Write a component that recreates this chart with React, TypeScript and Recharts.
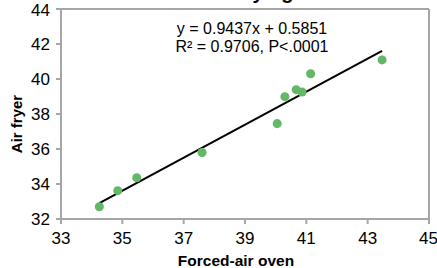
import React from "react";
import {
  ScatterChart,
  Scatter,
  XAxis,
  YAxis,
  ZAxis,
  ReferenceLine,
} from "recharts";

// forced-air oven (x) vs air fryer (y)
const ovenValues = [34.25, 34.85, 35.47, 37.6, 40.05, 40.3, 40.67, 40.86, 41.14, 43.47];
const fryerValues = [32.7, 33.62, 34.36, 35.8, 37.45, 38.99, 39.39, 39.26, 40.3, 41.09];

const xTicks = [33, 35, 37, 39, 41, 43, 45];
const yTicks = [32, 34, 36, 38, 40, 42, 44];

const slope = 0.9437;
const intercept = 0.5851;

const points = ovenValues.map((x, i) => ({ x, y: fryerValues[i] }));
const xMin = Math.min(...ovenValues);
const xMax = Math.max(...ovenValues);
const fitSegment = [
  { x: xMin, y: slope * xMin + intercept },
  { x: xMax, y: slope * xMax + intercept },
];

const axisGray = "#a6a6a6";
const font = "'Liberation Sans', Arial, sans-serif";

const YLabel = (props: any) => {
  const vb = props.viewBox || { x: 0, y: 9, height: 210 };
  const cx = 21.5;
  const cy = vb.y + vb.height / 2 + 10;
  return (
    <text
      x={cx}
      y={cy}
      transform={`rotate(-90 ${cx} ${cy})`}
      textAnchor="middle"
      fontWeight="bold"
      fontSize={15}
      fill="#000"
    >
      Air fryer
    </text>
  );
};

export default function App() {
  return (
    <div
      style={{
        position: "fixed",
        left: 0,
        top: 0,
        width: 437,
        height: 268,
        background: "#fff",
        fontFamily: font,
      }}
    >
      <ScatterChart
        width={437}
        height={268}
        margin={{ top: 9, right: 8, bottom: 0, left: 0 }}
        style={{ fontFamily: font }}
      >
        <XAxis
          type="number"
          dataKey="x"
          domain={[33, 45]}
          ticks={xTicks}
          height={49}
          tickSize={5}
          tickMargin={8}
          axisLine={{ stroke: axisGray, strokeWidth: 2 }}
          tickLine={{ stroke: axisGray, strokeWidth: 2 }}
          tick={{ fill: "#000", fontSize: 17 }}
          label={{
            value: "Forced-air oven",
            position: "insideBottom",
            offset: 2,
            dx: -9,
            fontWeight: "bold",
            fontSize: 15.5,
            fill: "#000",
          }}
        />
        <YAxis
          type="number"
          dataKey="y"
          domain={[32, 44]}
          ticks={yTicks}
          width={61}
          tickSize={5}
          tickMargin={6}
          axisLine={{ stroke: axisGray, strokeWidth: 2 }}
          tickLine={{ stroke: axisGray, strokeWidth: 2 }}
          tick={{ fill: "#000", fontSize: 17 }}
          label={<YLabel />}
        />
        <ZAxis range={[30, 30]} />
        <ReferenceLine y={44} stroke={axisGray} strokeWidth={2} />
        <ReferenceLine x={45} stroke={axisGray} strokeWidth={2} />
        <ReferenceLine
          segment={fitSegment}
          stroke="#000"
          strokeWidth={2}
          ifOverflow="visible"
        />
        <Scatter data={points} fill="#62b866" isAnimationActive={false} />
      </ScatterChart>
      <svg
        width={437}
        height={268}
        style={{ position: "absolute", left: 0, top: 0, pointerEvents: "none" }}
      >
        <text x={204.7} y={-1.5} fontSize={20} fontWeight="bold" fill="#000">
          Air frying
        </text>
        <text x={252} y={34.3} textAnchor="middle" fontSize={16} fill="#000">
          y = 0.9437x + 0.5851
        </text>
        <text x={252} y={51.7} textAnchor="middle" fontSize={16} fill="#000">
          R² = 0.9706, P&lt;.0001
        </text>
      </svg>
    </div>
  );
}
